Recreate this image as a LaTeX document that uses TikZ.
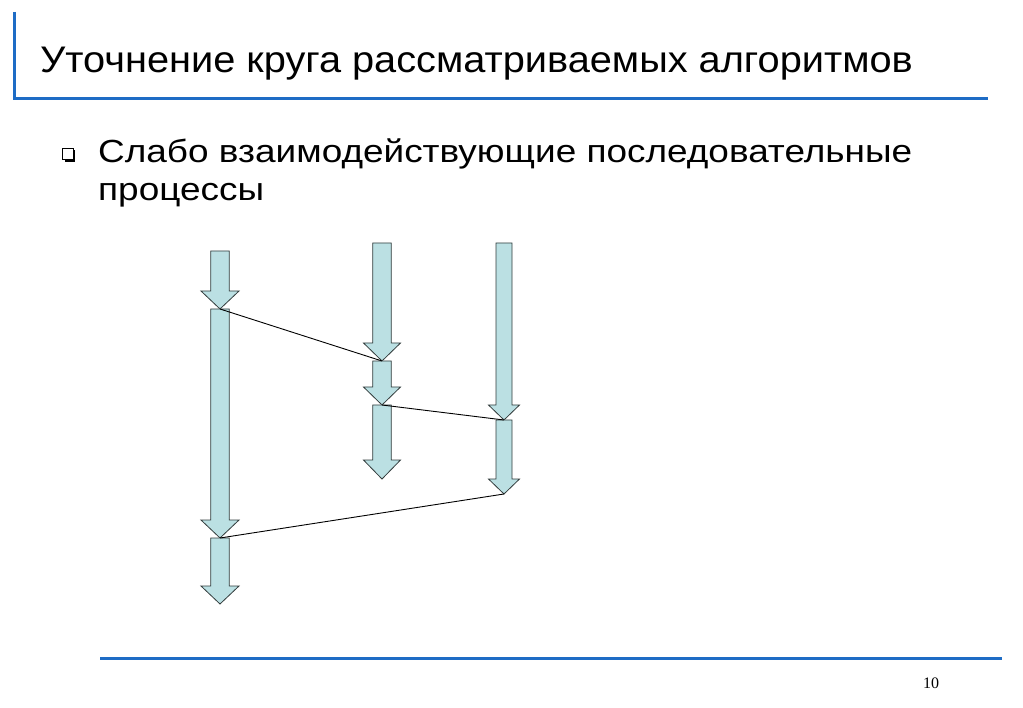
\documentclass[tikz,border=0pt]{standalone}
\usepackage{graphicx}
\usepackage{fontspec}
\setmainfont{Liberation Sans}
\newfontfamily\serifpn{Liberation Serif}
\definecolor{slideblue}{RGB}{30,108,197}
\definecolor{arrowfill}{RGB}{187,224,227}
\definecolor{arrowedge}{RGB}{50,60,60}
\tikzset{
  blockarrow/.style={fill=arrowfill,draw=arrowedge,line width=0.8pt,line join=miter},
  msgline/.style={draw=black,line width=0.9pt},
  rule/.style={draw=slideblue,line width=3pt},
  slidetext/.style={anchor=base west,inner sep=0pt},
}
% \barrow{name}{cx}{top}{headbase}{tip}{shaft half}{head half}
\newcommand{\barrow}[7]{%
  \draw[blockarrow] (#2-#6,#3) -- (#2+#6,#3) -- (#2+#6,#4) -- (#2+#7,#4) -- (#2,#5)
     -- (#2-#7,#4) -- (#2-#6,#4) -- cycle;
  \coordinate (#1-tip) at (#2,#5);
  \coordinate (#1-top) at (#2,#3);
}
\begin{document}
\begin{tikzpicture}[x=1pt,y=-1pt]
\useasboundingbox (0,0) rectangle (1023,708);
\fill[white] (0,0) rectangle (1023,708);
% header rules
\draw[rule] (14,12) -- (14,98.5) -- (988,98.5);
\draw[rule] (100,658.5) -- (1002,658.5);
% title
\node[slidetext,font=\fontsize{37}{44}\selectfont] (title) at (40,73) {\scalebox{1.074}[1]{Уточнение круга рассматриваемых алгоритмов}};
% bullet
\fill[black] (64.5,150.5) rectangle (75,162.3);
\draw[fill=white,line width=1pt] (62.5,148.5) rectangle (73,160);
\node[slidetext,font=\fontsize{32}{38}\selectfont] (l1) at (98,163) {\scalebox{1.155}[1]{Слабо взаимодействующие последовательные}};
\node[slidetext,font=\fontsize{32}{38}\selectfont] (l2) at (98,201) {\scalebox{1.155}[1]{процессы}};
% page number
\node[slidetext,font=\serifpn\fontsize{16}{19}\selectfont] (pn) at (923,688) {10};
% process 1
\barrow{a1}{220}{251}{291}{309}{9.3}{19}
\barrow{a2}{220}{309}{520}{538}{9.3}{19}
\barrow{a3}{220}{538}{586}{604}{9.3}{19}
% process 2
\barrow{b1}{382}{243}{343}{361}{9.3}{18.5}
\barrow{b2}{382}{361}{387}{405}{9.3}{18.5}
\barrow{b3}{382}{405}{460}{479}{9.3}{18.5}
% process 3
\barrow{c1}{504}{243}{405}{420}{8}{15.5}
\barrow{c2}{504}{420}{479}{494}{8}{15.5}
% messages
\draw[msgline] (a1-tip) -- (b1-tip);
\draw[msgline] (b2-tip) -- (c1-tip);
\draw[msgline] (c2-tip) -- (a2-tip);
\end{tikzpicture}
\end{document}
